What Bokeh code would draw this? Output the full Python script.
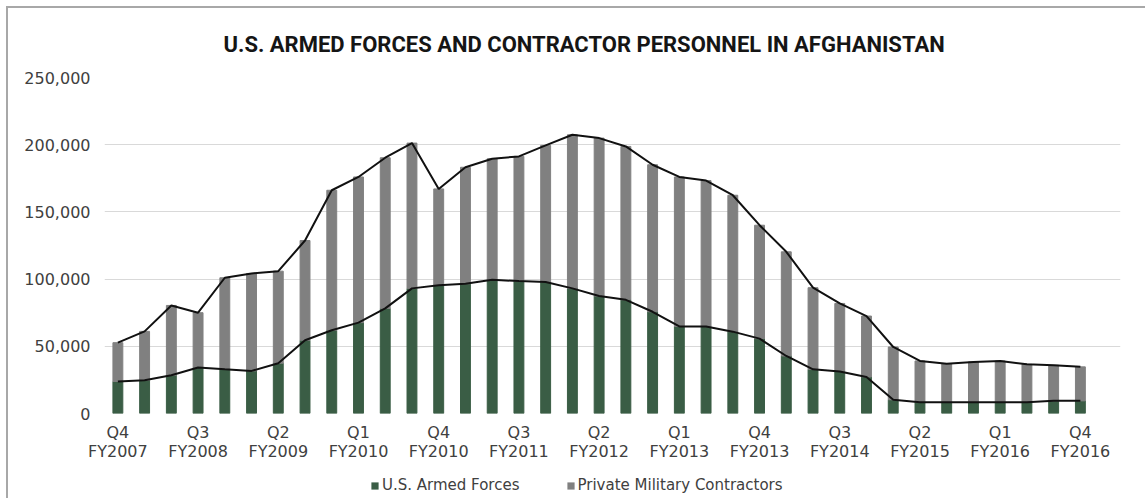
from bokeh.plotting import figure
from bokeh.layouts import column
from bokeh.models import (ColumnDataSource, Legend, LegendItem, NumeralTickFormatter,
                          FixedTicker, Range1d)
from bokeh.embed import file_html
from bokeh.resources import INLINE

# ---------------- data ----------------
quarters = [
    "Q4 FY2007",
    "Q1 FY2008", "Q2 FY2008", "Q3 FY2008", "Q4 FY2008",
    "Q1 FY2009", "Q2 FY2009", "Q3 FY2009", "Q4 FY2009",
    "Q1 FY2010", "Q2 FY2010", "Q3 FY2010", "Q4 FY2010",
    "Q1 FY2011", "Q2 FY2011", "Q3 FY2011", "Q4 FY2011",
    "Q1 FY2012", "Q2 FY2012", "Q3 FY2012", "Q4 FY2012",
    "Q1 FY2013", "Q2 FY2013", "Q3 FY2013", "Q4 FY2013",
    "Q1 FY2014", "Q2 FY2014", "Q3 FY2014", "Q4 FY2014",
    "Q1 FY2015", "Q2 FY2015", "Q3 FY2015", "Q4 FY2015",
    "Q1 FY2016", "Q2 FY2016", "Q3 FY2016", "Q4 FY2016",
]
armed_forces = [
    23800, 24800, 28500, 34200, 32900, 31700, 37400, 54500, 61900, 67600,
    78200, 93100, 95500, 96500, 99500, 98500, 97800, 93100, 87400, 84600,
    75700, 64800, 64800, 60900, 55700, 42800, 32900, 31200, 27200, 10200,
    8400, 8400, 8400, 8400, 8400, 9400, 9400,
]
contractors = [
    28900, 36300, 51900, 40800, 68100, 72500, 68500, 74200, 104200, 108400,
    112100, 108100, 71600, 86700, 90100, 92800, 101700, 114300, 117500, 114100,
    109400, 111200, 108500, 101500, 84400, 77500, 60700, 50700, 45300, 39300,
    30700, 28700, 30000, 30700, 28200, 26500, 25300,
]
labelled_quarters = [
    "Q4 FY2007", "Q3 FY2008", "Q2 FY2009", "Q1 FY2010", "Q4 FY2010",
    "Q3 FY2011", "Q2 FY2012", "Q1 FY2013", "Q4 FY2013", "Q3 FY2014",
    "Q2 FY2015", "Q1 FY2016", "Q4 FY2016",
]
y_ticks = [0, 50000, 100000, 150000, 200000, 250000]
series_names = ["U.S. Armed Forces", "Private Military Contractors"]
title_text = "U.S. ARMED FORCES AND CONTRACTOR PERSONNEL IN AFGHANISTAN"

# ---------------- styling ----------------
GREEN = "#3a5d45"
GRAY = "#808080"
TEXT = "#404040"
FONT = "DejaVu Sans"
W = 1137

x = list(range(len(quarters)))
totals = [a + c for a, c in zip(armed_forces, contractors)]
src = ColumnDataSource(dict(x=x, af=armed_forces, pmc=contractors, total=totals))

p = figure(width=W, height=462, output_backend="svg", toolbar_location=None,
           x_range=Range1d(-0.5, len(quarters) + 0.5), y_range=Range1d(0, 250000),
           min_border_left=96, min_border_right=25, min_border_top=68,
           min_border_bottom=57, title=title_text)
p.background_fill_color = "white"
p.border_fill_color = "white"
p.outline_line_color = None

p.title.align = "left"
p.title.offset = 119
p.title.standoff = 42
p.title.text_line_height = 1.0
p.title.text_font = "Roboto"
p.title.text_font_style = "bold"
p.title.text_font_size = "22px"
p.title.text_color = "#151515"

bars = p.vbar_stack(["af", "pmc"], x="x", width=0.37, color=[GREEN, GRAY], source=src)
p.line("x", "total", source=src, line_color="#111111", line_width=2)
p.line("x", "af", source=src, line_color="#111111", line_width=2)

tick_pos = [quarters.index(q) for q in labelled_quarters]
p.xaxis.ticker = FixedTicker(ticks=tick_pos)
p.xaxis.major_label_overrides = {i: quarters[i].replace(" ", "\n") for i in tick_pos}
p.yaxis.ticker = FixedTicker(ticks=y_ticks)
p.yaxis.formatter = NumeralTickFormatter(format="0,0")
for ax in (p.xaxis[0], p.yaxis[0]):
    ax.axis_line_color = None
    ax.major_tick_line_color = None
    ax.minor_tick_line_color = None
    ax.major_label_text_font = FONT
    ax.major_label_text_font_size = "16px"
    ax.major_label_text_color = TEXT
p.xaxis.major_label_text_line_height = 1.0
p.yaxis.major_label_standoff = 8
p.xaxis.major_label_standoff = 3
p.xgrid.visible = False
p.ygrid.grid_line_color = "#d9d9d9"
p.ygrid.grid_line_width = 1

# ---- legend strip (separate small figure below the chart) ----
lf = figure(width=W, height=28, output_backend="svg", toolbar_location=None,
            x_range=Range1d(0, 1), y_range=Range1d(0, 1), min_border=0,
            x_axis_type=None, y_axis_type=None)
lf.grid.visible = False
lf.outline_line_color = None
lf.background_fill_color = "white"
lf.border_fill_color = "white"
# legend keys only: zero-height (invisible) bars that just carry the colours
key_af = lf.vbar(x=[0.5], top=[0], bottom=[0], width=0.1,
                 fill_color=GREEN, line_color=None)
key_pmc = lf.vbar(x=[0.5], top=[0], bottom=[0], width=0.1,
                  fill_color=GRAY, line_color=None)
legend = Legend(items=[LegendItem(label=series_names[0], renderers=[key_af]),
                       LegendItem(label=series_names[1], renderers=[key_pmc])],
                orientation="horizontal", location=(266, 4),
                glyph_width=9, glyph_height=9, label_standoff=3, spacing=46,
                padding=0, margin=0, border_line_color=None,
                background_fill_alpha=0, label_text_font=FONT,
                label_text_font_size="15px", label_text_color=TEXT, label_height=15)
lf.add_layout(legend)

layout = column(p, lf, spacing=0,
                styles={"margin-left": "6px", "margin-top": "6px",
                        "border-left": "2px solid #a8a8a8",
                        "border-top": "2px solid #a8a8a8"})

open("out.html", "w").write(file_html(layout, INLINE))
